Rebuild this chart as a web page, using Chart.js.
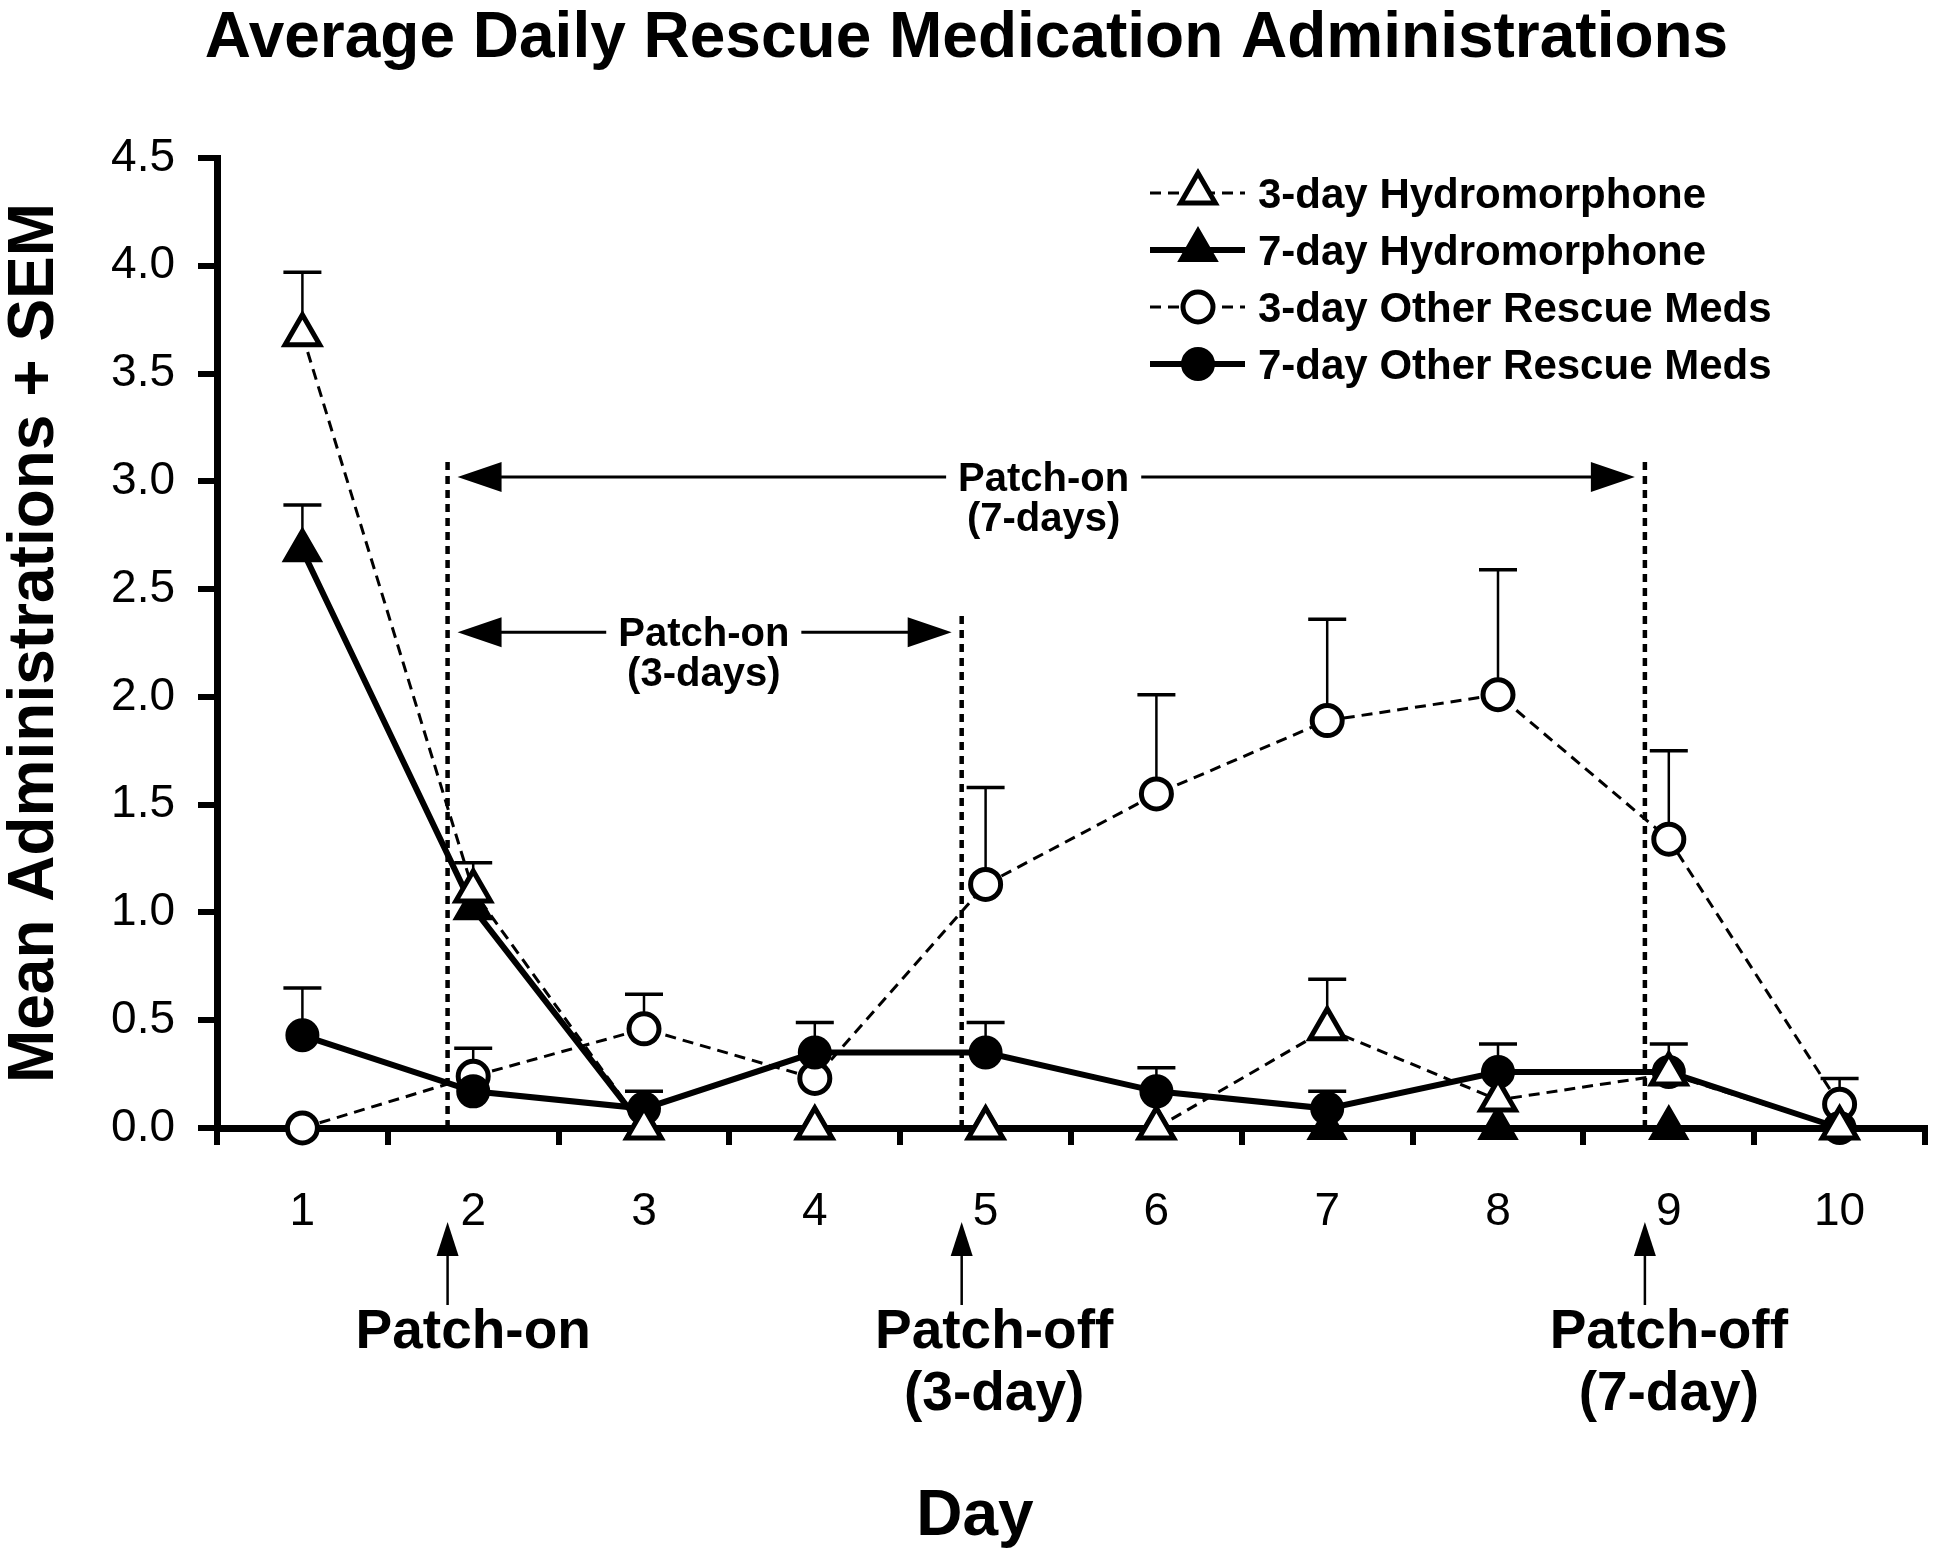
<!DOCTYPE html>
<html>
<head>
<meta charset="utf-8">
<script src="https://cdn.jsdelivr.net/npm/chart.js@4.4.1/dist/chart.umd.min.js"></script>
<style>
  html, body { margin: 0; padding: 0; background: #fff; }
</style>
</head>
<body>
<canvas id="chart" width="1950" height="1558"></canvas>
<script>
const days = [1, 2, 3, 4, 5, 6, 7, 8, 9, 10]
const yTicks = [0, 0.5, 1, 1.5, 2, 2.5, 3, 3.5, 4, 4.5]

const hydro3 = [3.68, 1.10, 0, 0, 0, 0, 0.46, 0.13, 0.25, 0]
const hydro3Sem = [0.29, 0.13, null, null, null, null, 0.23, null, null, null]
const hydro7 = [2.68, 1.02, 0, 0, 0, 0, 0, 0, 0, 0]
const hydro7Sem = [0.21, null, null, null, null, null, null, null, null, null]
const other3 = [0, 0.24, 0.46, 0.23, 1.13, 1.55, 1.89, 2.01, 1.34, 0.11]
const other3Sem = [null, 0.13, 0.16, null, 0.45, 0.46, 0.47, 0.58, 0.41, 0.12]
const other7 = [0.43, 0.17, 0.09, 0.35, 0.35, 0.17, 0.09, 0.26, 0.26, 0]
const other7Sem = [0.22, null, 0.08, 0.14, 0.14, 0.11, 0.08, 0.13, 0.13, null]

// treatment periods (day positions) drawn as annotations
const patchLines = [
  { day: 1.85, top: 3.09 },
  { day: 4.86, top: 2.39 },
  { day: 8.86, top: 3.09 }
]
const spans = [
  { from: 1.85, to: 8.86, y: 3.02, textDay: 5.34, lines: ["Patch-on", "(7-days)"] },
  { from: 1.85, to: 4.86, y: 2.30, textDay: 3.35, lines: ["Patch-on", "(3-days)"] }
]
const events = [
  { day: 1.85, textDay: 2.0, lines: ["Patch-on"] },
  { day: 4.86, textDay: 5.05, lines: ["Patch-off", "(3-day)"] },
  { day: 8.86, textDay: 9.0, lines: ["Patch-off", "(7-day)"] }
]

const FONT = "'Liberation Sans', Arial, Helvetica, sans-serif"
const font = (size, bold) => (bold ? "bold " : "") + size + "px " + FONT

Chart.defaults.font.family = FONT
Chart.defaults.color = "#000"

const pts = arr => days.map((d, i) => ({ x: d, y: arr[i] }))

function arrowHead(ctx, tx, ty, dx, dy, len, half) {
  const bx = tx - dx * len, by = ty - dy * len
  ctx.beginPath()
  ctx.moveTo(tx, ty)
  ctx.lineTo(bx - dy * half, by + dx * half)
  ctx.lineTo(bx + dy * half, by - dx * half)
  ctx.closePath()
  ctx.fill()
}

const annotations = {
  id: "annotations",
  beforeDatasetsDraw(chart) {
    const { ctx, chartArea, scales: { x, y } } = chart
    ctx.save()
    ctx.strokeStyle = "#000"
    ctx.fillStyle = "#000"

    // dotted period lines
    ctx.lineWidth = 4.5
    ctx.setLineDash([8, 6])
    patchLines.forEach(p => {
      const px = x.getPixelForValue(p.day)
      ctx.beginPath()
      ctx.moveTo(px, y.getPixelForValue(0))
      ctx.lineTo(px, y.getPixelForValue(p.top))
      ctx.stroke()
    })
    ctx.setLineDash([])

    // double arrows inside the plot
    ctx.font = font(40, true)
    ctx.textAlign = "center"
    ctx.textBaseline = "alphabetic"
    spans.forEach(s => {
      const x1 = x.getPixelForValue(s.from) + 10
      const x2 = x.getPixelForValue(s.to) - 10
      const py = y.getPixelForValue(s.y)
      const tx = x.getPixelForValue(s.textDay)
      const w = ctx.measureText(s.lines[0]).width
      ctx.lineWidth = 3
      ctx.beginPath()
      ctx.moveTo(x1 + 40, py)
      ctx.lineTo(tx - w / 2 - 12, py)
      ctx.moveTo(tx + w / 2 + 12, py)
      ctx.lineTo(x2 - 40, py)
      ctx.stroke()
      arrowHead(ctx, x1, py, -1, 0, 44, 15)
      arrowHead(ctx, x2, py, 1, 0, 44, 15)
      s.lines.forEach((t, i) => ctx.fillText(t, tx, py + 14 + i * 40))
    })

    // event arrows below the axis
    const b = chartArea.bottom
    ctx.font = font(55, true)
    events.forEach(e => {
      const px = x.getPixelForValue(e.day)
      ctx.lineWidth = 2.5
      ctx.beginPath()
      ctx.moveTo(px, b + 120)
      ctx.lineTo(px, b + 177)
      ctx.stroke()
      arrowHead(ctx, px, b + 94, 0, -1, 34, 11)
      const tx = x.getPixelForValue(e.textDay)
      e.lines.forEach((t, i) => ctx.fillText(t, tx, b + 220 + i * 62))
    })

    // x axis title, centred on the figure
    ctx.font = font(64, true)
    ctx.fillText("Day", chart.width / 2, chart.height - 23)
    ctx.restore()
  }
}

const errorBars = {
  id: "errorBars",
  beforeDatasetsDraw(chart) {
    const { ctx, scales: { x, y } } = chart
    ctx.save()
    ctx.strokeStyle = "#000"
    chart.data.datasets.forEach(ds => {
      ds.sem.forEach((e, i) => {
        if (e == null) return
        const px = x.getPixelForValue(days[i])
        const y0 = y.getPixelForValue(ds.data[i].y)
        const y1 = y.getPixelForValue(ds.data[i].y + e)
        ctx.lineWidth = 2.5
        ctx.beginPath()
        ctx.moveTo(px, y0)
        ctx.lineTo(px, y1)
        ctx.stroke()
        ctx.lineWidth = 3.5
        ctx.beginPath()
        ctx.moveTo(px - 19, y1)
        ctx.lineTo(px + 19, y1)
        ctx.stroke()
      })
    })
    ctx.restore()
  }
}

const legendBox = {
  id: "legendBox",
  afterDraw(chart) {
    const { ctx } = chart
    ctx.save()
    chart.data.datasets.forEach((ds, i) => {
      const cy = 193 + i * 57
      ctx.strokeStyle = "#000"
      ctx.lineWidth = ds.borderWidth
      ctx.setLineDash(ds.borderDash || [])
      ctx.beginPath()
      ctx.moveTo(1150, cy)
      ctx.lineTo(1245, cy)
      ctx.stroke()
      ctx.setLineDash([])
      ctx.fillStyle = ds.pointBackgroundColor
      ctx.lineWidth = ds.pointBorderWidth
      Chart.helpers.drawPoint(ctx, {
        pointStyle: ds.pointStyle,
        radius: ds.pointRadius,
        borderWidth: ds.pointBorderWidth,
        rotation: 0
      }, 1198, cy)
      ctx.fillStyle = "#000"
      ctx.font = font(42, true)
      ctx.textAlign = "left"
      ctx.textBaseline = "alphabetic"
      ctx.fillText(ds.label, 1258, cy + 15)
    })
    ctx.restore()
  }
}

const dashed = [11, 7]

new Chart(document.getElementById("chart"), {
  type: "line",
  data: {
    datasets: [{
        label: "3-day Hydromorphone",
        data: pts(hydro3),
        sem: hydro3Sem,
        borderColor: "#000",
        borderWidth: 3,
        borderDash: dashed,
        pointStyle: "triangle",
        pointRadius: 20,
        pointBackgroundColor: "#fff",
        pointBorderColor: "#000",
        pointBorderWidth: 5,
        order: 0
      },
      {
        label: "7-day Hydromorphone",
        data: pts(hydro7),
        sem: hydro7Sem,
        borderColor: "#000",
        borderWidth: 6,
        pointStyle: "triangle",
        pointRadius: 20,
        pointBackgroundColor: "#000",
        pointBorderColor: "#000",
        pointBorderWidth: 4,
        order: 1
      },
      {
        label: "3-day Other Rescue Meds",
        data: pts(other3),
        sem: other3Sem,
        borderColor: "#000",
        borderWidth: 3,
        borderDash: dashed,
        pointStyle: "circle",
        pointRadius: 15,
        pointBackgroundColor: "#fff",
        pointBorderColor: "#000",
        pointBorderWidth: 5,
        order: 3
      },
      {
        label: "7-day Other Rescue Meds",
        data: pts(other7),
        sem: other7Sem,
        borderColor: "#000",
        borderWidth: 6,
        pointStyle: "circle",
        pointRadius: 15,
        pointBackgroundColor: "#000",
        pointBorderColor: "#000",
        pointBorderWidth: 4,
        order: 2
      }
    ]
  },
  options: {
    responsive: false,
    animation: false,
    events: [],
    clip: false,
    elements: { line: { tension: 0 } },
    layout: { padding: { left: 0, right: 17, top: 0, bottom: 0 } },
    plugins: {
      legend: { display: false },
      tooltip: { enabled: false },
      title: {
        display: true,
        text: "Average Daily Rescue Medication Administrations",
        color: "#000",
        font: { size: 64, weight: "bold", lineHeight: 1 },
        padding: { top: 7, bottom: 87 }
      }
    },
    scales: {
      x: {
        type: "linear",
        min: 0.5,
        max: 10.5,
        afterBuildTicks: s => { s.ticks = days.map(v => ({ value: v })) },
        afterFit: s => { s.height = 430 },
        grid: { offset: true, drawOnChartArea: false, drawTicks: true, tickLength: 17, lineWidth: 6, color: "#000" },
        border: { display: true, width: 7, color: "#000" },
        ticks: { font: { size: 46 }, padding: 40, maxRotation: 0, autoSkip: false, color: "#000" }
      },
      y: {
        min: 0,
        max: 4.5,
        afterBuildTicks: s => { s.ticks = yTicks.map(v => ({ value: v })) },
        afterFit: s => { s.width = 217 },
        grid: { drawOnChartArea: false, drawTicks: true, tickLength: 19, lineWidth: 6, color: "#000" },
        border: { display: true, width: 7, color: "#000" },
        ticks: { font: { size: 46 }, padding: 23, color: "#000", callback: v => v.toFixed(1) },
        title: {
          display: true,
          text: "Mean Administrations + SEM",
          color: "#000",
          font: { size: 64, weight: "bold", lineHeight: 1 },
          padding: { top: 3, bottom: 0 }
        }
      }
    }
  },
  plugins: [annotations, errorBars, legendBox]
})
</script>
</body>
</html>
